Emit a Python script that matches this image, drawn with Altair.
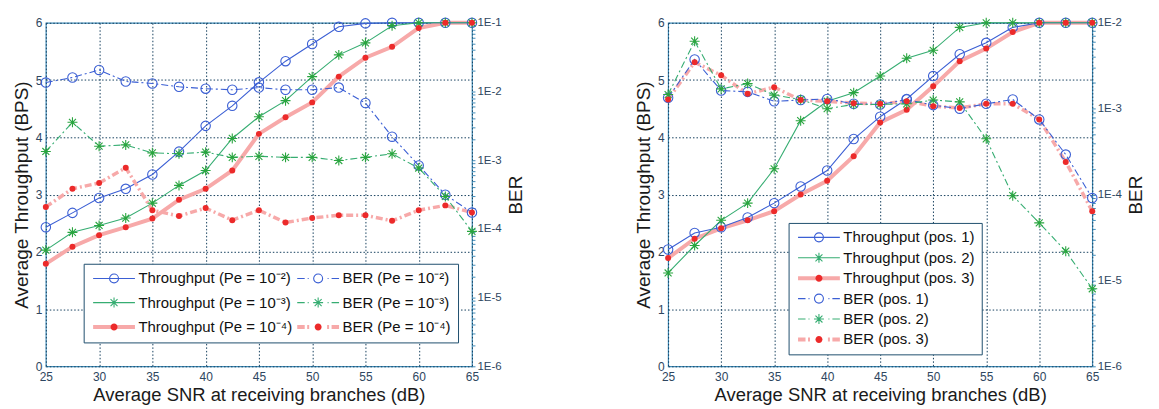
import altair as alt
import pandas as pd

FONT = "Liberation Sans"

snr = [25, 27.5, 30, 32.5, 35, 37.5, 40, 42.5, 45, 47.5, 50, 52.5, 55, 57.5, 60, 62.5, 65]

# ---- left panel (target error probability Pe) ----
left_thr_pe2 = [2.43, 2.68, 2.94, 3.10, 3.35, 3.75, 4.20, 4.55, 4.96, 5.33, 5.63, 5.93, 5.99, 6.0, 6.0, 6.0, 6.0]
left_thr_pe3 = [2.03, 2.34, 2.46, 2.59, 2.85, 3.16, 3.42, 3.98, 4.36, 4.64, 5.06, 5.44, 5.65, 5.95, 6.0, 6.0, 6.0]
left_thr_pe4 = [1.79, 2.09, 2.29, 2.43, 2.58, 2.91, 3.10, 3.42, 4.06, 4.35, 4.61, 5.06, 5.39, 5.58, 5.91, 6.0, 6.0]
left_ber_pe2 = [1.35e-2, 1.60e-2, 2.06e-2, 1.40e-2, 1.31e-2, 1.17e-2, 1.10e-2, 1.06e-2, 1.14e-2, 1.06e-2,
                1.06e-2, 1.14e-2, 6.8e-3, 2.2e-3, 8.4e-4, 3.15e-4, 1.73e-4]
left_ber_pe3 = [1.34e-3, 3.56e-3, 1.60e-3, 1.67e-3, 1.28e-3, 1.24e-3, 1.31e-3, 1.10e-3, 1.14e-3, 1.10e-3,
                1.10e-3, 9.9e-4, 1.10e-3, 1.24e-3, 7.7e-4, 2.97e-4, 9.2e-5]
left_ber_pe4 = [2.09e-4, 3.85e-4, 4.65e-4, 7.75e-4, 1.87e-4, 1.54e-4, 2.01e-4, 1.34e-4, 1.87e-4, 1.24e-4,
                1.44e-4, 1.58e-4, 1.58e-4, 1.31e-4, 1.87e-4, 2.20e-4, 1.73e-4]
left_thr_names = ["Throughput (Pe = 10⁻²)", "Throughput (Pe = 10⁻³)", "Throughput (Pe = 10⁻⁴)"]
left_ber_names = ["BER (Pe = 10⁻²)", "BER (Pe = 10⁻³)", "BER (Pe = 10⁻⁴)"]

# ---- right panel (antenna positions) ----
right_thr_pos1 = [2.04, 2.33, 2.43, 2.60, 2.85, 3.14, 3.42, 3.97, 4.36, 4.67, 5.07, 5.45, 5.65, 5.92, 6.0, 6.0, 6.0]
right_thr_pos2 = [1.63, 2.11, 2.55, 2.85, 3.45, 4.29, 4.63, 4.78, 5.07, 5.38, 5.52, 5.92, 6.0, 6.0, 6.0, 6.0, 6.0]
right_thr_pos3 = [1.89, 2.23, 2.41, 2.55, 2.71, 3.00, 3.24, 3.67, 4.26, 4.48, 4.89, 5.33, 5.55, 5.84, 6.0, 6.0, 6.0]
right_ber_pos1 = [1.34e-3, 3.74e-3, 1.63e-3, 1.57e-3, 1.22e-3, 1.26e-3, 1.30e-3, 1.14e-3, 1.12e-3, 1.28e-3,
                  1.10e-3, 1.00e-3, 1.14e-3, 1.28e-3, 7.5e-4, 2.92e-4, 9.1e-5]
right_ber_pos2 = [1.46e-3, 6.11e-3, 1.70e-3, 1.96e-3, 1.44e-3, 1.28e-3, 1.00e-3, 1.12e-3, 1.12e-3, 1.14e-3,
                  1.26e-3, 1.20e-3, 4.46e-4, 9.7e-5, 4.68e-5, 2.19e-5, 8.0e-6]
right_ber_pos3 = [1.28e-3, 3.48e-3, 2.45e-3, 1.49e-3, 1.78e-3, 1.26e-3, 1.22e-3, 1.16e-3, 1.14e-3, 1.22e-3,
                  1.07e-3, 1.02e-3, 1.14e-3, 1.14e-3, 7.5e-4, 2.40e-4, 6.4e-5]
right_thr_names = ["Throughput (pos. 1)", "Throughput (pos. 2)", "Throughput (pos. 3)"]
right_ber_names = ["BER (pos. 1)", "BER (pos. 2)", "BER (pos. 3)"]

x_ticks = [25, 30, 35, 40, 45, 50, 55, 60, 65]
thr_ticks = [0, 1, 2, 3, 4, 5, 6]

BLUE = "#3b5fd4"
GREEN_LINE = "#36ad72"
GREEN_MK = "#29a53f"
PINK = "#f7a9a9"
RED = "#ec2a2a"
FRAME = "#3f8cb8"
GRID = "#153f5e"
LABEL = "#2e4660"
DASHDOT = [7, 3, 2, 3]
STAR = "M-1,0L1,0M0,-1L0,1M-0.7,-0.7L0.7,0.7M-0.7,0.7L0.7,-0.7"

# legend symbol paths (1 unit = 5 px at symbolSize 100)
L_SOLID = "M-1,0L7.4,0"
L_DASHDOT = "M-1,0L0.5,0M1.1,0L1.3,0M5.1,0L5.3,0M5.9,0L7.4,0"
L_THICK = "M-1,-0.3L7.4,-0.3M-1,-0.1L7.4,-0.1M-1,0.1L7.4,0.1M-1,0.3L7.4,0.3"
L_THICK_DD = ("M-1,-0.3L0.5,-0.3M-1,-0.1L0.5,-0.1M-1,0.1L0.5,0.1M-1,0.3L0.5,0.3"
              "M1.0,-0.3L1.4,-0.3M1.0,-0.1L1.4,-0.1M1.0,0.1L1.4,0.1M1.0,0.3L1.4,0.3"
              "M5.0,-0.3L5.4,-0.3M5.0,-0.1L5.4,-0.1M5.0,0.1L5.4,0.1M5.0,0.3L5.4,0.3"
              "M5.9,-0.3L7.4,-0.3M5.9,-0.1L7.4,-0.1M5.9,0.1L7.4,0.1M5.9,0.3L7.4,0.3")
CIRC = "M4.1,0A0.9,0.9 0 1,1 2.3,0A0.9,0.9 0 1,1 4.1,0"
LSTAR = "M2.2,0L4.2,0M3.2,-1L3.2,1M2.5,-0.7L3.9,0.7M2.5,0.7L3.9,-0.7"
DOT = "M3.9,0A0.7,0.7 0 1,1 2.5,0A0.7,0.7 0 1,1 3.9,0Z"


def make_df(thr, ber, thr_names, ber_names):
    rows = []
    for kind, series, names in (("thr", thr, thr_names), ("ber", ber, ber_names)):
        for i, (vals, name) in enumerate(zip(series, names)):
            for s, v in zip(snr, vals):
                rows.append({"snr": s, "value": v, "series": name, "key": f"{kind}{i + 1}"})
    return pd.DataFrame(rows)


def series_layers(df, kind, x, y):
    base = alt.Chart(df)

    def f(g):
        return base.transform_filter(alt.datum.key == f"{kind}{g}")

    dash = {} if kind == "thr" else {"strokeDash": DASHDOT}
    w3 = 4 if kind == "thr" else 3.5
    return [
        f(3).mark_line(color=PINK, strokeWidth=w3, **dash).encode(x=x, y=y),
        f(1).mark_line(color=BLUE, strokeWidth=1.1, **dash).encode(x=x, y=y),
        f(2).mark_line(color=GREEN_LINE, strokeWidth=1.1, **dash).encode(x=x, y=y),
        f(1).mark_point(shape="circle", filled=False, size=90, strokeWidth=1.1, color=BLUE, opacity=1).encode(x=x, y=y),
        f(2).mark_point(shape=STAR, filled=False, size=100, strokeWidth=1.1, color=GREEN_MK, opacity=1).encode(x=x, y=y),
        f(3).mark_point(shape="circle", filled=True, size=36, color=RED, opacity=1).encode(x=x, y=y),
    ]


def panel(thr, ber, thr_names, ber_names, ber_lo, ber_hi, width, height, lx, ly, cols, rowpad, colpad):
    df = make_df(thr, ber, thr_names, ber_names)
    x = alt.X("snr:Q", scale=alt.Scale(domain=[25, 65], nice=False, zero=False),
              axis=alt.Axis(values=x_ticks, grid=True, gridColor=GRID, gridDash=[1.5, 2], gridWidth=1,
                            ticks=False, domain=False, labelFont=FONT, labelFontSize=12, labelColor=LABEL,
                            labelPadding=5, labelFlush=False,
                            title="Average SNR at receiving branches (dB)", titleFont=FONT, titleFontSize=18.5,
                            titleFontWeight="normal", titleColor="#1a1a1a", titlePadding=3))
    y_thr = alt.Y("value:Q", scale=alt.Scale(domain=[0, 6], nice=False, zero=True),
                  axis=alt.Axis(orient="left", values=thr_ticks, grid=True, gridColor=GRID, gridDash=[1.5, 2],
                                ticks=False, domain=False, labelFont=FONT, labelFontSize=12, labelColor=LABEL,
                                labelPadding=4, title="Average Throughput (BPS)", titleFont=FONT,
                                titleFontSize=19, titleFontWeight="normal", titleColor="#1a1a1a", titlePadding=4))
    ber_vals = []
    for d in range(ber_lo, ber_hi):
        for m in range(1, 10):
            ber_vals.append(m * 10.0 ** d)
    ber_top = 10.0 ** ber_hi
    ber_vals.append(ber_top)
    y_ber = alt.Y("value:Q", scale=alt.Scale(type="log", domain=[10.0 ** ber_lo, ber_top], nice=False),
                  axis=alt.Axis(orient="right", values=ber_vals, grid=False, ticks=True, tickSize=3,
                                tickColor=FRAME, domain=False, labelOverlap=False,
                                labelExpr="abs(log(datum.value)/LN10 - round(log(datum.value)/LN10)) < 0.01 ? '1E' + round(log(datum.value)/LN10) : ''",
                                labelFont=FONT, labelFontSize=11.5, labelColor=LABEL, labelPadding=2,
                                title="BER", titleFont=FONT, titleFontSize=19, titleFontWeight="normal",
                                titleColor="#1a1a1a", titleAngle=270, titleBaseline="top", titlePadding=5))
    thr_layer = alt.layer(*series_layers(df, "thr", x, y_thr))
    ber_layer = alt.layer(*series_layers(df, "ber", x, y_ber))

    leg_names = thr_names + ber_names
    leg_colors = [BLUE, GREEN_LINE, PINK, BLUE, GREEN_LINE, PINK]
    leg_paths = [L_SOLID + CIRC, L_SOLID + LSTAR, L_THICK, L_DASHDOT + CIRC, L_DASHDOT + LSTAR, L_THICK_DD]
    leg_dot = ["transparent", "transparent", RED, "transparent", "transparent", RED]

    common = dict(title=None, orient="none", legendX=lx, legendY=ly, columns=cols, symbolSize=100,
                  labelFont=FONT, labelFontSize=15, labelOffset=33, rowPadding=rowpad, columnPadding=colpad,
                  padding=7, labelLimit=400)
    legA = alt.Legend(symbolStrokeWidth=1.1, labelColor="#111111", strokeColor="#1f4f6e", fillColor="white", **common)
    legB = alt.Legend(symbolStrokeWidth=0, symbolType=DOT, labelOpacity=0, labelColor="#111111",
                      strokeColor="transparent", fillColor="transparent", **common)
    empty = alt.Chart(df).transform_filter("datum.snr < 0")
    legA_layer = empty.mark_point(filled=False, opacity=1, strokeWidth=1.1).encode(
        color=alt.Color("series:N", scale=alt.Scale(domain=leg_names, range=leg_colors), legend=legA),
        shape=alt.Shape("series:N", scale=alt.Scale(domain=leg_names, range=leg_paths), legend=legA),
    )
    legB_names = [n + "\u200b" for n in leg_names]
    legB_layer = empty.transform_calculate(series2="datum.series + '\u200b'").mark_point(
        filled=True, opacity=1).encode(
        fill=alt.Fill("series2:N", scale=alt.Scale(domain=legB_names, range=leg_dot), legend=legB),
    )
    return alt.layer(thr_layer, ber_layer, legA_layer, legB_layer).resolve_scale(y="independent").properties(
        width=width, height=height)


left = panel([left_thr_pe2, left_thr_pe3, left_thr_pe4], [left_ber_pe2, left_ber_pe3, left_ber_pe4],
             left_thr_names, left_ber_names, -6, -1, 428, 345, 38, 242, 2, 8.5, 2)
right = panel([right_thr_pos1, right_thr_pos2, right_thr_pos3], [right_ber_pos1, right_ber_pos2, right_ber_pos3],
              right_thr_names, right_ber_names, -6, -2, 426, 345, 121, 201, 1, 4.5, 12)

chart = alt.hconcat(left, right, spacing=108).resolve_scale(
    color="independent", fill="independent", shape="independent"
).resolve_legend(color="independent", fill="independent", shape="independent").configure_view(
    stroke=FRAME, strokeWidth=1.2
).properties(padding={"left": 3, "top": 5, "right": 5, "bottom": 2}, background="white")

chart.save("out.html", embed_options={"renderer": "svg", "actions": False})
